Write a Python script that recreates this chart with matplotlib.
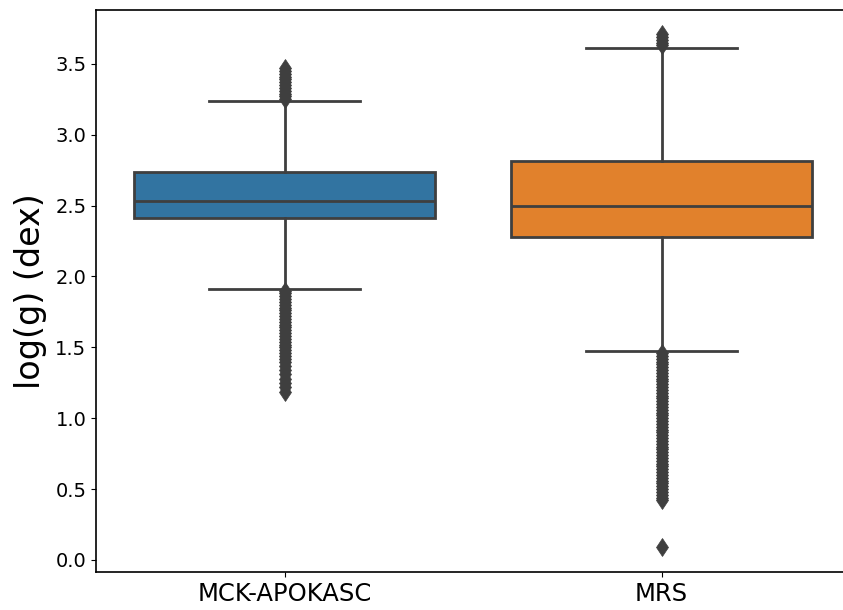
import matplotlib
matplotlib.use("Agg")
import matplotlib.pyplot as plt

# Box statistics for log(g) per sample
labels = ["MCK-APOKASC", "MRS"]
colors = ["#3274a1", "#e1812c"]
q1 = [2.41, 2.28]
med = [2.53, 2.495]
q3 = [2.74, 2.815]
whislo = [1.91, 1.475]
whishi = [3.235, 3.615]

# outlying points beyond the whiskers
mck_fliers = [3.25, 3.27, 3.29, 3.31, 3.33, 3.35, 3.37, 3.39, 3.41, 3.43, 3.45, 3.47,
              1.90, 1.88, 1.86, 1.84, 1.82, 1.80, 1.78, 1.76, 1.74, 1.72, 1.70, 1.68,
              1.66, 1.64, 1.62, 1.60, 1.58, 1.56, 1.54, 1.52, 1.50, 1.48, 1.46, 1.44,
              1.42, 1.40, 1.37, 1.34, 1.31, 1.28, 1.25, 1.22, 1.185]
mrs_fliers = [3.63, 3.65, 3.67, 3.69, 3.71,
              1.46, 1.44, 1.42, 1.40, 1.38, 1.36, 1.34, 1.32, 1.30, 1.28, 1.26, 1.24,
              1.22, 1.20, 1.18, 1.16, 1.14, 1.12, 1.10, 1.08, 1.06, 1.04, 1.02, 1.00,
              0.98, 0.96, 0.94, 0.92, 0.90, 0.88, 0.86, 0.84, 0.82, 0.80, 0.78, 0.76,
              0.74, 0.72, 0.70, 0.68, 0.66, 0.64, 0.62, 0.60, 0.58, 0.56, 0.54, 0.52,
              0.50, 0.48, 0.46, 0.44, 0.42, 0.09]
fliers = [mck_fliers, mrs_fliers]

stats = []
for i in range(len(labels)):
    stats.append({"label": labels[i], "q1": q1[i], "med": med[i], "q3": q3[i],
                  "whislo": whislo[i], "whishi": whishi[i], "fliers": fliers[i]})

gray = "#3f3f3f"
fig = plt.figure(figsize=(8.43, 6.10), dpi=100)
ax = fig.add_axes([96 / 843, 38 / 610, 754 / 843, 562 / 610])

bp = ax.bxp(stats, positions=[0, 1], widths=0.8, capwidths=0.4, patch_artist=True,
            boxprops=dict(edgecolor=gray, linewidth=2),
            medianprops=dict(color=gray, linewidth=2),
            whiskerprops=dict(color=gray, linewidth=2),
            capprops=dict(color=gray, linewidth=2),
            flierprops=dict(marker="d", markersize=9.5, markerfacecolor=gray,
                            markeredgecolor=gray, markeredgewidth=0.5))
for patch, c in zip(bp["boxes"], colors):
    patch.set_facecolor(c)

ax.set_xlim(-0.5, 1.5)
ax.set_ylim(-0.085, 3.88)
ax.set_yticks([0, 0.5, 1.0, 1.5, 2.0, 2.5, 3.0, 3.5])
ax.set_yticklabels(["0.0", "0.5", "1.0", "1.5", "2.0", "2.5", "3.0", "3.5"])
ax.tick_params(axis="y", labelsize=14)
ax.tick_params(axis="x", labelsize=17.5)
ax.set_ylabel("log(g) (dex)", fontsize=24, labelpad=6)
for s in ax.spines.values():
    s.set_linewidth(1.2)

fig.savefig("out.png", dpi=100)
